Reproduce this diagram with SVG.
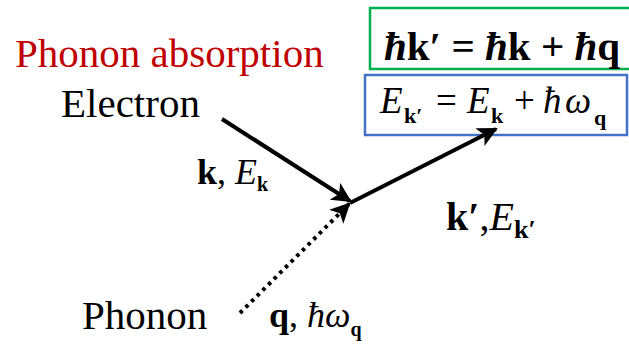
<svg xmlns="http://www.w3.org/2000/svg" width="629" height="344" viewBox="0 0 629 344">
<style>
text{font-family:"Liberation Serif","Times New Roman",serif;fill:#000}
.lbl{font-size:41px}
.b{font-weight:bold}
.i{font-style:italic}
.sub{font-weight:bold;font-size:22px}
</style>
<defs>
<marker id="ah" viewBox="0 0 10 10" refX="9" refY="5" markerWidth="5" markerHeight="5" orient="auto" markerUnits="strokeWidth">
<path d="M0,0 L10,5 L0,10 L2.5,5 z" fill="#000"/>
</marker>
</defs>
<rect width="629" height="344" fill="#fff"/>
<g id="title"><text x="15" y="67" font-size="41" style="fill:#c00000">Phonon absorption</text></g>
<g id="electron"><text class="lbl" x="61" y="117">Electron</text></g>
<g id="phonon"><text class="lbl" x="82" y="329">Phonon</text></g>
<g id="momentum-eq">
<rect x="370" y="8" width="264" height="61" fill="none" stroke="#00b050" stroke-width="2.5"/>
<text x="384" y="60" font-size="41" class="b"><tspan class="i">ħ</tspan>k′ = <tspan class="i">ħ</tspan>k + <tspan class="i">ħ</tspan>q</text>
</g>
<g id="energy-eq">
<rect x="365" y="75" width="262" height="60" fill="none" stroke="#4472c4" stroke-width="2.5"/>
<text font-size="37" y="113"><tspan class="i" x="380">E</tspan><tspan class="sub" x="404" y="123">k′</tspan><tspan x="436" y="113">=</tspan><tspan class="i" x="467">E</tspan><tspan class="sub" x="491" y="123">k</tspan><tspan x="514" y="113">+</tspan><tspan class="i" x="543">ħ</tspan><tspan class="i" x="565">ω</tspan><tspan class="sub" x="594" y="125">q</tspan></text>
</g>
<g id="in-label"><text x="197" y="184" font-size="36"><tspan class="b">k</tspan>, <tspan class="i">E</tspan><tspan class="b" font-size="20" dy="7">k</tspan></text></g>
<g id="q-label"><text x="269" y="327" font-size="36"><tspan class="b">q</tspan>, <tspan class="i">ħω</tspan><tspan class="b" font-size="20" dy="9">q</tspan></text></g>
<g id="out-label"><text x="446" y="230" font-size="40"><tspan class="b">k′</tspan>,<tspan class="i">E</tspan><tspan class="b" font-size="26" dy="8">k′</tspan></text></g>
<g id="connectors" stroke="#000" fill="none">
<line x1="222" y1="119" x2="350" y2="201" stroke-width="4" marker-end="url(#ah)"/>
<line x1="350" y1="203" x2="496" y2="129" stroke-width="4" marker-end="url(#ah)"/>
<line x1="240" y1="313" x2="349" y2="204" stroke-width="4" stroke-dasharray="3.5 4.5" marker-end="url(#ah)"/>
</g>
</svg>
